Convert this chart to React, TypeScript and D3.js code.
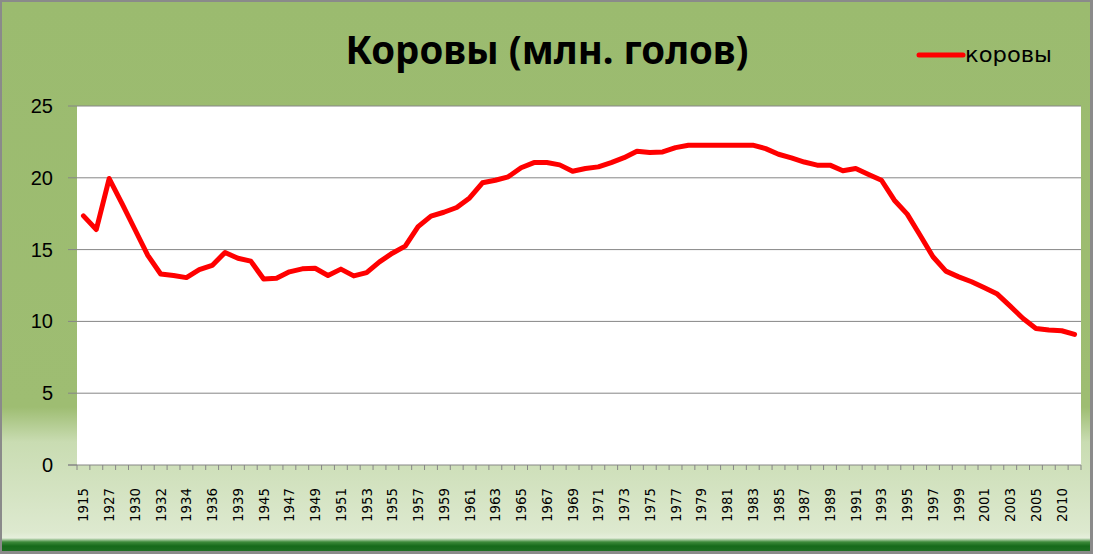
import React, { useEffect } from "react";
import * as d3 from "d3";

const years: string[] = [
  "1915", "1916", "1927", "1928", "1930", "1931", "1932", "1933", "1934", "1935",
  "1936", "1938", "1939", "1941",
  "1945", "1946", "1947", "1948", "1949", "1950", "1951", "1952", "1953", "1954",
  "1955", "1956", "1957", "1958", "1959", "1960", "1961", "1962", "1963", "1964",
  "1965", "1966", "1967", "1968", "1969", "1970", "1971", "1972", "1973", "1974",
  "1975", "1976", "1977", "1978", "1979", "1980", "1981", "1982", "1983", "1984",
  "1985", "1986", "1987", "1988", "1989", "1990", "1991", "1992", "1993", "1994",
  "1995", "1996", "1997", "1998", "1999", "2000", "2001", "2002", "2003", "2004",
  "2005", "2008", "2010", "2011",
];

const cows: number[] = [
  17.35, 16.4, 19.95, 18.2, 16.4, 14.6, 13.3, 13.2, 13.05, 13.6,
  13.9, 14.8, 14.4, 14.2,
  12.95, 13.0, 13.45, 13.66, 13.7, 13.2, 13.64, 13.17, 13.4, 14.15,
  14.75, 15.24, 16.6, 17.33, 17.6, 17.93, 18.6, 19.65, 19.83, 20.07,
  20.7, 21.06, 21.06, 20.9, 20.46, 20.65, 20.76, 21.06, 21.4, 21.85,
  21.76, 21.8, 22.1, 22.27, 22.27, 22.27, 22.27, 22.27, 22.27, 22.03,
  21.64, 21.39, 21.1, 20.88, 20.88, 20.49, 20.65, 20.23, 19.83, 18.44,
  17.47, 16.0, 14.5, 13.5, 13.1, 12.76, 12.34, 11.9, 11.06, 10.2,
  9.51, 9.4, 9.35, 9.1,
];

const yTicks: number[] = [0, 5, 10, 15, 20, 25];
const title = "Коровы (млн. голов)";
const seriesName = "коровы";

const W = 1093;
const H = 554;

export default function App() {
  useEffect(() => {
    document.body.style.margin = "0";
  }, []);

  const x = d3.scaleBand<string>().domain(years).range([77, 1081]).padding(0);
  const y = d3.scaleLinear().domain([0, 25]).range([465, 106]);
  const bw = x.bandwidth();

  const line = d3
    .line<number>()
    .x((_, i) => (x(years[i]) as number) + bw / 2)
    .y((d) => y(d));

  const tickXs = years.map((yr) => x(yr) as number).concat([1081]);

  return (
    <svg
      width={W}
      height={H}
      style={{ display: "block", position: "absolute", left: 0, top: 0 }}
    >
      <defs>
        <linearGradient id="bg" x1="0" y1="0" x2="0" y2="1">
          <stop offset="0" stopColor="#9bbb6f" />
          <stop offset={405 / 549} stopColor="#9ebd72" />
          <stop offset={440 / 549} stopColor="#c9dcb2" />
          <stop offset={530 / 549} stopColor="#dde9cf" />
          <stop offset={536 / 549} stopColor="#e6efdc" />
          <stop offset={540 / 549} stopColor="#3d8a3a" />
          <stop offset={544 / 549} stopColor="#166a1a" />
          <stop offset="1" stopColor="#1e6f22" />
        </linearGradient>
      </defs>
      <rect x={0} y={0} width={W} height={H} fill="#8a8a8a" />
      <rect x={2} y={2} width={1088} height={549} fill="url(#bg)" />
      <rect x={77} y={106} width={1004} height={359} fill="#ffffff" />

      {yTicks.map((t) => (
        <g key={"g" + t}>
          {t > 0 && (
            <line x1={77} x2={1081} y1={y(t)} y2={y(t)} stroke="#868686" strokeWidth={1} />
          )}
          <line x1={68} x2={77} y1={y(t)} y2={y(t)} stroke="#868686" strokeWidth={1} />
          <text
            x={53}
            y={y(t)}
            dy="0.35em"
            textAnchor="end"
            fontFamily="Liberation Sans, Arial, sans-serif"
            fontSize={20}
            fill="#000"
          >
            {t}
          </text>
        </g>
      ))}

      <line x1={68} x2={1081} y1={465} y2={465} stroke="#868686" strokeWidth={1} />
      {tickXs.map((tx, i) => (
        <line key={"xt" + i} x1={tx} x2={tx} y1={465} y2={470} stroke="#868686" strokeWidth={1} />
      ))}

      {years.map((yr, i) =>
        i % 2 === 0 ? (
          <text
            key={"xl" + yr}
            transform={`translate(${(x(yr) as number) + bw / 2 + 5},488) rotate(-90)`}
            textAnchor="end"
            fontFamily="'DejaVu Sans', Verdana, sans-serif"
            fontSize={14}
            textLength={34}
            lengthAdjust="spacingAndGlyphs"
            fill="#000"
          >
            {yr}
          </text>
        ) : null
      )}

      <path
        d={line(cows) || ""}
        fill="none"
        stroke="#ff0000"
        strokeWidth={5}
        strokeLinejoin="round"
        strokeLinecap="round"
      />

      <text
        x={547}
        y={64}
        textAnchor="middle"
        fontFamily="'Noto Sans', 'Open Sans', sans-serif"
        fontWeight="bold"
        fontSize={40}
        textLength={403}
        lengthAdjust="spacingAndGlyphs"
        fill="#000"
      >
        {title}
      </text>

      <line x1={919} x2={963} y1={55} y2={55} stroke="#ff0000" strokeWidth={5} strokeLinecap="round" />
      <text
        x={965}
        y={55}
        dy="0.35em"
        fontFamily="'DejaVu Sans', Verdana, sans-serif"
        fontSize={21}
        textLength={87}
        lengthAdjust="spacingAndGlyphs"
        fill="#000"
      >
        {seriesName}
      </text>
    </svg>
  );
}
